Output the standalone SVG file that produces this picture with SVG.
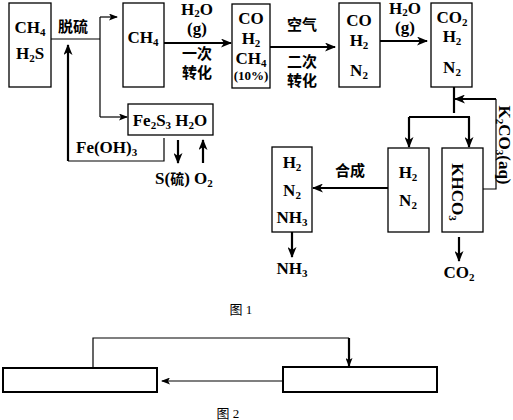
<svg xmlns="http://www.w3.org/2000/svg" width="513" height="420" viewBox="0 0 513 420">
<defs>
<style>
.bx{fill:none;stroke:#000;stroke-width:1.3}
.bx2{fill:none;stroke:#000;stroke-width:2}
.f{font-family:"Liberation Serif","Times New Roman",serif;font-weight:bold;font-size:17px;fill:#000;text-anchor:middle}
.fs{font-family:"Liberation Serif","Times New Roman",serif;font-weight:bold;font-size:17px;fill:#000;text-anchor:start}
.fm{font-family:"Liberation Serif","Times New Roman",serif;font-weight:bold;font-size:13px;fill:#000;text-anchor:middle}
.c{font-family:"Noto Sans CJK SC",sans-serif;font-weight:bold;font-size:15px;fill:#000;text-anchor:middle}
.cap{font-family:"Liberation Serif","Noto Sans CJK SC",serif;font-size:13px;fill:#000;text-anchor:middle}
.s{font-size:11px}
.th{fill:none;stroke:#000;stroke-width:2.2}
.tn{fill:none;stroke:#000;stroke-width:1.2}
</style>
<marker id="ah" markerWidth="11" markerHeight="9" refX="10" refY="4.5" orient="auto" markerUnits="userSpaceOnUse"><path d="M0,0 L11,4.5 L0,9 L3,4.5 z" fill="#000"/></marker>
<marker id="as" markerWidth="9" markerHeight="7" refX="8" refY="3.5" orient="auto" markerUnits="userSpaceOnUse"><path d="M0,0 L9,3.5 L0,7 L2,3.5 z" fill="#000"/></marker>
</defs>

<g id="n1"><rect class="bx" x="9" y="3" width="42" height="84"/>
<text class="f" x="30" y="33">CH<tspan class="s" dy="3">4</tspan></text>
<text class="f" x="30" y="59">H<tspan class="s" dy="3">2</tspan><tspan dy="-3">S</tspan></text></g>

<g id="n2"><rect class="bx" x="123" y="3" width="41" height="84"/>
<text class="f" x="143" y="43">CH<tspan class="s" dy="3">4</tspan></text></g>

<g id="n3"><rect class="bx" x="232" y="4" width="38" height="84"/>
<text class="f" x="251" y="24">CO</text>
<text class="f" x="251" y="44">H<tspan class="s" dy="3">2</tspan></text>
<text class="f" x="251" y="64">CH<tspan class="s" dy="3">4</tspan></text>
<text class="fm" x="251" y="80">(10%)</text></g>

<g id="n4"><rect class="bx" x="339" y="3" width="41" height="84"/>
<text class="f" x="359" y="26">CO</text>
<text class="f" x="359" y="46">H<tspan class="s" dy="3">2</tspan></text>
<text class="f" x="359" y="76">N<tspan class="s" dy="3">2</tspan></text></g>

<g id="n5"><rect class="bx" x="431" y="3" width="41" height="84"/>
<text class="f" x="452" y="23">CO<tspan class="s" dy="3">2</tspan></text>
<text class="f" x="452" y="42">H<tspan class="s" dy="3">2</tspan></text>
<text class="f" x="452" y="73">N<tspan class="s" dy="3">2</tspan></text></g>

<g id="n6"><rect class="bx" x="128" y="104" width="85" height="31"/>
<text class="f" x="170" y="126">Fe<tspan class="s" dy="3">2</tspan><tspan dy="-3">S</tspan><tspan class="s" dy="3">3</tspan><tspan dy="-3"> H</tspan><tspan class="s" dy="3">2</tspan><tspan dy="-3">O</tspan></text></g>

<g id="n7"><rect class="bx" x="388" y="148" width="41" height="84"/>
<text class="f" x="408" y="178">H<tspan class="s" dy="3">2</tspan></text>
<text class="f" x="408" y="206">N<tspan class="s" dy="3">2</tspan></text></g>

<g id="n8"><rect class="bx" x="442" y="148" width="41" height="84"/>
<text class="f" transform="translate(458,192) rotate(90)" x="0" y="6">KHCO<tspan class="s" dy="3">3</tspan></text></g>

<g id="n9"><rect class="bx" x="272" y="147" width="40" height="85"/>
<text class="f" x="292" y="168">H<tspan class="s" dy="3">2</tspan></text>
<text class="f" x="292" y="196">N<tspan class="s" dy="3">2</tspan></text>
<text class="f" x="292" y="223">NH<tspan class="s" dy="3">3</tspan></text></g>

<g id="labels">
<text class="c" x="73" y="32">脱硫</text>
<text class="f" x="197" y="15">H<tspan class="s" dy="2">2</tspan><tspan dy="-2">O</tspan></text>
<text class="f" x="197" y="34">(g)</text>
<text class="c" x="197" y="59">一次</text>
<text class="c" x="197" y="78">转化</text>
<text class="c" x="302" y="30">空气</text>
<text class="c" x="302" y="67">二次</text>
<text class="c" x="302" y="86">转化</text>
<text class="f" x="405" y="14">H<tspan class="s" dy="2">2</tspan><tspan dy="-2">O</tspan></text>
<text class="f" x="405" y="33">(g)</text>
<text class="f" transform="translate(505,145) rotate(90)" x="0" y="6">K<tspan class="s" dy="3">2</tspan><tspan dy="-3">CO</tspan><tspan class="s" dy="3">3</tspan><tspan dy="-3">(aq)</tspan></text>
<text class="c" x="350" y="176">合成</text>
<text class="f" x="292" y="274">NH<tspan class="s" dy="3">3</tspan></text>
<text class="f" x="459" y="278">CO<tspan class="s" dy="3">2</tspan></text>
<text class="fs" x="76" y="153">Fe(OH)<tspan class="s" dy="3">3</tspan></text>
<text class="fs" x="155" y="184">S(<tspan style="font-family:'Noto Sans CJK SC',sans-serif;font-size:14px">硫</tspan>) O<tspan class="s" dy="3">2</tspan></text>
<text class="cap" x="241" y="314">图 1</text>
<text class="cap" x="228" y="418">图 2</text>
</g>

<g id="connectors">
<path class="tn" d="M51,39 H100 M100,17 V117"/>
<path class="tn" d="M100,17 H117" marker-end="url(#as)"/>
<path class="tn" d="M100,117 H127" marker-end="url(#as)"/>
<path class="th" d="M164,43 H231" marker-end="url(#ah)"/>
<path class="th" d="M270,47 H335" marker-end="url(#ah)"/>
<path class="th" d="M380,41 H427" marker-end="url(#ah)"/>
<path class="th" d="M454,87 V113"/>
<path class="th" d="M496,99 H455" marker-end="url(#ah)"/>
<path class="tn" d="M496,99 V189 H483"/>
<path class="th" d="M409,117 H470"/>
<path class="th" d="M409,117 V147" marker-end="url(#ah)"/>
<path class="th" d="M469,117 V147" marker-end="url(#ah)"/>
<path class="th" d="M388,188 H313" marker-end="url(#ah)"/>
<path class="th" d="M292,232 V257" marker-end="url(#ah)"/>
<path class="th" d="M459,237 V261" marker-end="url(#ah)"/>
<path class="tn" d="M164,138 V161 H68"/>
<path class="th" d="M68,161 V45" marker-end="url(#ah)"/>
<path class="th" d="M178,140 V163" marker-end="url(#ah)"/>
<path class="th" d="M203,163 V140" marker-end="url(#ah)"/>
</g>

<g id="fig2">
<rect class="bx2" x="3" y="368" width="154" height="24"/>
<rect class="bx2" x="283" y="367" width="154" height="25"/>
<path class="tn" d="M93,368 V338 H349"/>
<path class="th" d="M349,338 V366" marker-end="url(#as)"/>
<path class="tn" d="M283,381 H162" marker-end="url(#as)"/>
</g>
</svg>
